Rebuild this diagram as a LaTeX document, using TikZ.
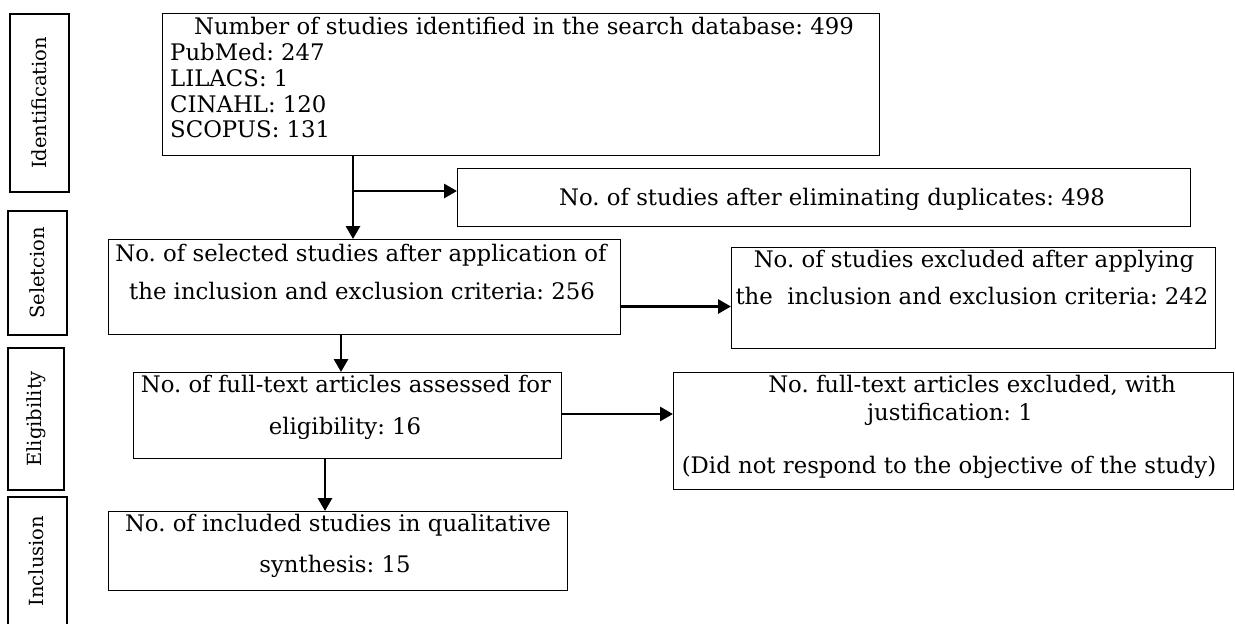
\documentclass[tikz,border=0pt]{standalone}
\usepackage{fontspec}
\setmainfont{DejaVu Serif}
\usetikzlibrary{arrows.meta}
\frenchspacing
\tikzset{
  box/.style={draw=black, line width=1.4pt, inner sep=0pt, anchor=north west},
  lbl/.style={draw=black, line width=1.7pt, inner sep=0pt, anchor=north west},
  txt/.style={inner sep=0pt, font=\fontsize{22.8pt}{26pt}\selectfont},
  ltxt/.style={inner sep=0pt, rotate=90, font=\fontsize{19.5pt}{22pt}\selectfont},
  arr/.style={line width=2.9pt, -{Triangle[length=13pt,width=14pt]}},
}
\begin{document}
\begin{tikzpicture}[x=1pt,y=-1pt]
\useasboundingbox[fill=white] (0,0) rectangle (1235,624);
% stage labels
\node[lbl, minimum width=59pt, minimum height=178pt] (bid) at (9,13) {};
\node[lbl, minimum width=59pt, minimum height=124pt] (bsel) at (7,210) {};
\node[lbl, minimum width=56pt, minimum height=142pt] (belig) at (7,347) {};
\node[lbl, minimum width=59pt, minimum height=150pt] (binc) at (7,496) {};
\node[ltxt] (lid) at (bid.center) {Identification};
\node[ltxt] (lsel) at (bsel.center) {Seletcion};
\node[ltxt] (lelig) at (belig.center) {Eligibility};
\node[ltxt] (linc) at (36,561) {Inclusion};
% boxes
\node[box, minimum width=717pt, minimum height=142pt] (top) at (162,13) {};
\node[box, minimum width=733pt, minimum height=58pt] (dup) at (457,168) {};
\node[box, minimum width=512pt, minimum height=95pt] (sel) at (108,239) {};
\node[box, minimum width=484pt, minimum height=101pt] (excl) at (731,247) {};
\node[box, minimum width=428pt, minimum height=86pt] (elig) at (133,372) {};
\node[box, minimum width=560pt, minimum height=117pt] (ft) at (673,372) {};
\node[box, minimum width=459pt, minimum height=79pt] (incl) at (108,511) {};
% texts
\node[txt, anchor=base] (t0) at (524,34) {Number of studies identified in the search database: 499};
\node[txt, anchor=base west] (t1) at (170,60) {PubMed: 247};
\node[txt, anchor=base west] (t2) at (170,86) {LILACS: 1};
\node[txt, anchor=base west] (t3) at (170,112) {CINAHL: 120};
\node[txt, anchor=base west] (t4) at (170,137) {SCOPUS: 131};
\node[txt, anchor=base] (td) at (832,205) {No. of studies after eliminating duplicates: 498};
\node[txt, anchor=base] (ts1) at (361,261) {No. of selected studies after application of};
\node[txt, anchor=base] (ts2) at (362,299) {the inclusion and exclusion criteria: 256};
\node[txt, anchor=base] (te1) at (974,267) {No. of studies excluded after applying};
\node[txt, anchor=base] (te2) at (972,304) {the\ \ inclusion and exclusion criteria: 242};
\node[txt, anchor=base] (tg1) at (346,392) {No. of full-text articles assessed for};
\node[txt, anchor=base] (tg2) at (345,434) {eligibility: 16};
\node[txt, anchor=base] (tf1) at (972,392) {No. full-text articles excluded, with};
\node[txt, anchor=base] (tf2) at (950,420) {justification: 1};
\node[txt, anchor=base] (tf3) at (949,473) {(Did not respond to the objective of the study)};
\node[txt, anchor=base] (ti1) at (338,531) {No. of included studies in qualitative};
\node[txt, anchor=base] (ti2) at (335,572) {synthesis: 15};
% connectors
\coordinate (c1) at (353,191);
\coordinate (c2) at (620,306.5);
\coordinate (c3) at (341,400);
\coordinate (c4) at (600,414);
\coordinate (c5) at (325,500);
\draw[arr] (top.south -| c1) -- (sel.north -| c1);
\draw[arr] (c1) -- (c1 -| dup.west);
\draw[arr] (c2 -| sel.east) -- (c2 -| excl.west);
\draw[arr] (sel.south -| c3) -- (elig.north -| c3);
\draw[arr] (c4 -| elig.east) -- (c4 -| ft.west);
\draw[arr] (elig.south -| c5) -- (incl.north -| c5);
\end{tikzpicture}
\end{document}
